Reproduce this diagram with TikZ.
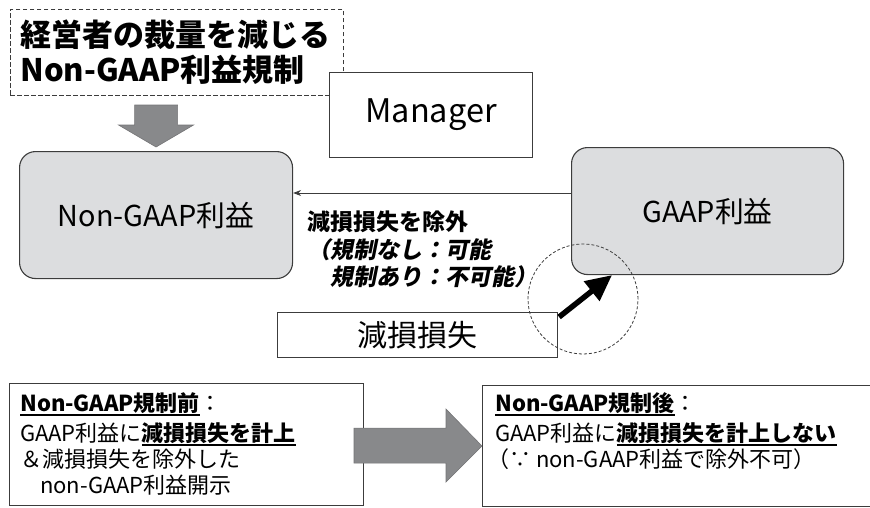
\documentclass[tikz,border=0pt]{standalone}
\usepackage{fontspec}
\setmainfont{Noto Sans CJK JP}
\newfontfamily\jpsl[FakeSlant=0.2]{Noto Sans CJK JP}
\usetikzlibrary{arrows.meta,calc}
\definecolor{boxgray}{HTML}{DCDDDF}
\definecolor{arrowgray}{HTML}{88898B}
\definecolor{edgegray}{HTML}{3C3C3C}
\newcommand{\myul}[1]{\setbox0\hbox{#1}\rlap{\rule[-4.5pt]{\wd0}{1.5pt}}\box0}
\begin{document}
\begin{tikzpicture}[x=1pt,y=-1pt,
  box/.style={draw=edgegray, line width=1.1pt, fill=white, inner sep=0pt},
  roundbox/.style={draw=edgegray, line width=1.1pt, fill=boxgray, rounded corners=16pt, inner sep=0pt},
  titlebox/.style={draw=edgegray, dash pattern=on 4.5pt off 2.5pt, line width=0.9pt, inner sep=0pt},
  blockarrow/.style={fill=arrowgray, draw=arrowgray!85!black, line width=0.6pt},
  txt/.style={anchor=north west, align=left, inner sep=0pt, text=black},
]
\useasboundingbox (0,0) rectangle (870,507);

% title
\node[titlebox, anchor=north west, minimum width=333pt, minimum height=86pt,
      text width=313pt, inner xsep=10pt, align=left,
      font=\fontsize{31}{35}\selectfont\bfseries] (title) at (10,9)
      {経営者の裁量を減じる\\Non-GAAP利益規制};

% manager
\node[box, anchor=north west, minimum width=203pt, minimum height=85pt,
      font=\fontsize{32.5}{37}\selectfont] (mgr) at (329,72) {Manager};

% profit boxes
\node[roundbox, anchor=north west, minimum width=273pt, minimum height=127pt,
      font=\fontsize{28.8}{32}\selectfont] (ng) at (19,151) {Non-GAAP利益};
\node[roundbox, anchor=north west, minimum width=272pt, minimum height=127pt,
      font=\fontsize{28.8}{32}\selectfont] (gaap) at (571,147) {GAAP利益};

% down block arrow
\coordinate (dt) at ($(ng.north)+(0,-4)$);
\draw[blockarrow] ($(dt)+(-21.5,-42)$) -- ($(dt)+(21.5,-42)$) -- ($(dt)+(21.5,-22)$)
  -- ($(dt)+(37.5,-22)$) -- (dt) -- ($(dt)+(-37.5,-22)$) -- ($(dt)+(-21.5,-22)$) -- cycle;

% thin arrow
\coordinate (ay) at (0,193);
\draw[edgegray, line width=0.9pt, -{Stealth[length=8pt,width=6pt]}] (gaap.west |- ay) -- (ng.east |- ay);

% label
\node[txt, font=\fontsize{23}{27.5}\selectfont\bfseries] (lbl) at (307,211)
  {減損損失を除外\\{\jpsl\bfseries （規制なし：可能}\\{\jpsl\bfseries 　規制あり：不可能）}};

% loss box
\node[box, anchor=north west, minimum width=280pt, minimum height=45pt,
      font=\fontsize{30}{34}\selectfont] (loss) at (277,312) {減損損失};

% focus circle
\node[circle, draw=edgegray, dash pattern=on 3pt off 2pt, line width=0.8pt,
      minimum width=110pt, minimum height=104pt, inner sep=0pt] (focus) at (583,299) {};

% thick arrow
\draw[black, line width=5.5pt, -{Triangle[length=26pt,width=24pt]}]
  ($(loss.north east)+(1,5)$) -- ($(gaap.south west)+(41,0)$);

% bottom boxes
\node[box, anchor=north west, minimum width=354pt, minimum height=122pt] (before) at (9,383) {};
\node[box, anchor=north west, minimum width=392pt, minimum height=121pt] (after) at (482,385) {};

\node[txt, font=\fontsize{22}{26}\selectfont] (beforetxt) at (20,392)
  {\myul{\bfseries Non-GAAP規制前}：\\[4pt]
   GAAP利益に\myul{\bfseries 減損損失を計上}\\
   ＆減損損失を除外した\\
   \hspace*{20pt}non-GAAP利益開示};

\node[txt, font=\fontsize{22}{26}\selectfont] (aftertxt) at (495,392)
  {\myul{\bfseries Non-GAAP規制後}：\\[4pt]
   GAAP利益に\myul{\bfseries 減損損失を計上しない}\\
   \hspace*{-8pt}（∵ non-GAAP利益で除外不可）};

% right block arrow
\coordinate (rt) at (after.west);
\draw[blockarrow] ($(rt)+(-128,-18)$) -- ($(rt)+(-36,-18)$) -- ($(rt)+(-36,-37)$)
  -- (rt) -- ($(rt)+(-36,36)$) -- ($(rt)+(-36,17)$) -- ($(rt)+(-128,17)$) -- cycle;
\end{tikzpicture}
\end{document}
